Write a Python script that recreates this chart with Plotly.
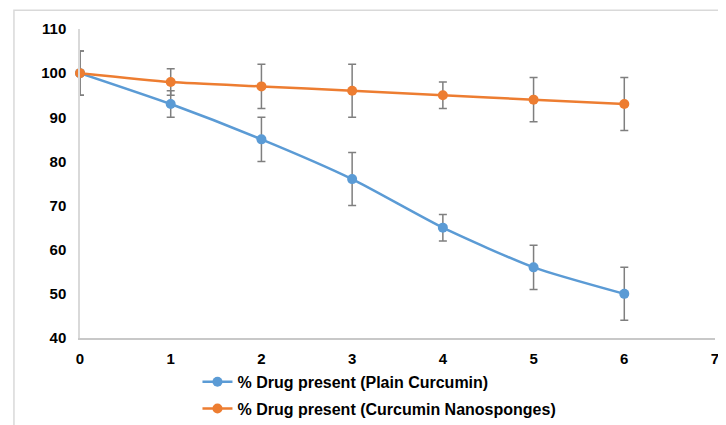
import plotly.graph_objects as go

time_h = [0, 1, 2, 3, 4, 5, 6]
plain = [100, 93, 85, 76, 65, 56, 50]
plain_err = [5, 3, 5, 6, 3, 5, 6]
nano = [100, 98, 97, 96, 95, 94, 93]
nano_err = [5, 3, 5, 6, 3, 5, 6]
names = ["% Drug present (Plain Curcumin)", "% Drug present (Curcumin Nanosponges)"]

fig = go.Figure()
for y, err, name, color, grp in [(plain, plain_err, names[0], "#5b9bd5", "a"),
                                 (nano, nano_err, names[1], "#ed7d31", "b")]:
    fig.add_trace(go.Scatter(
        x=time_h, y=y, name=name, mode="lines+markers", legendgroup=grp,
        line=dict(color=color, width=2.5, shape="spline", smoothing=0.6),
        marker=dict(color=color, size=10),
        error_y=dict(type="data", array=err, visible=True, color="#7f7f7f", thickness=1.5, width=4),
        cliponaxis=False,
    ))

fig.add_shape(type="rect", xref="paper", yref="paper", x0=-0.104, x1=1.05, y0=-0.5, y1=1.061,
              line=dict(color="#d9d9d9", width=1.5), fillcolor="rgba(0,0,0,0)", layer="below")

# page body has an 8px default margin, so the figure is offset by (8, 8)
fig.update_layout(
    width=718, height=417,
    margin=dict(l=72, r=11, t=21, b=87, autoexpand=False),
    paper_bgcolor="white", plot_bgcolor="white",
    font=dict(family="Liberation Sans, Arial", size=15, color="#000000"),
    showlegend=True,
    legend=dict(x=0.185, xanchor="left", y=-0.087, yanchor="top", orientation="v",
                tracegroupgap=3, font=dict(size=16, family="Liberation Sans, Arial", weight="bold"),
                bgcolor="rgba(0,0,0,0)"),
    xaxis=dict(range=[0, 7], dtick=1, tick0=0, showgrid=False, zeroline=False,
               showline=True, linecolor="#c8c8c8", linewidth=1.5, ticks="",
               automargin=False, ticklabelstandoff=6,
               tickfont=dict(size=15, family="Liberation Sans, Arial", weight="bold"),
               fixedrange=True),
    yaxis=dict(range=[40, 110], dtick=10, tick0=40, showgrid=False, zeroline=False,
               showline=True, linecolor="#d9d9d9", linewidth=1.5, ticks="",
               automargin=False, ticklabelstandoff=9,
               tickfont=dict(size=15, family="Liberation Sans, Arial", weight="bold"),
               fixedrange=True),
)
fig.write_html("out.html")
